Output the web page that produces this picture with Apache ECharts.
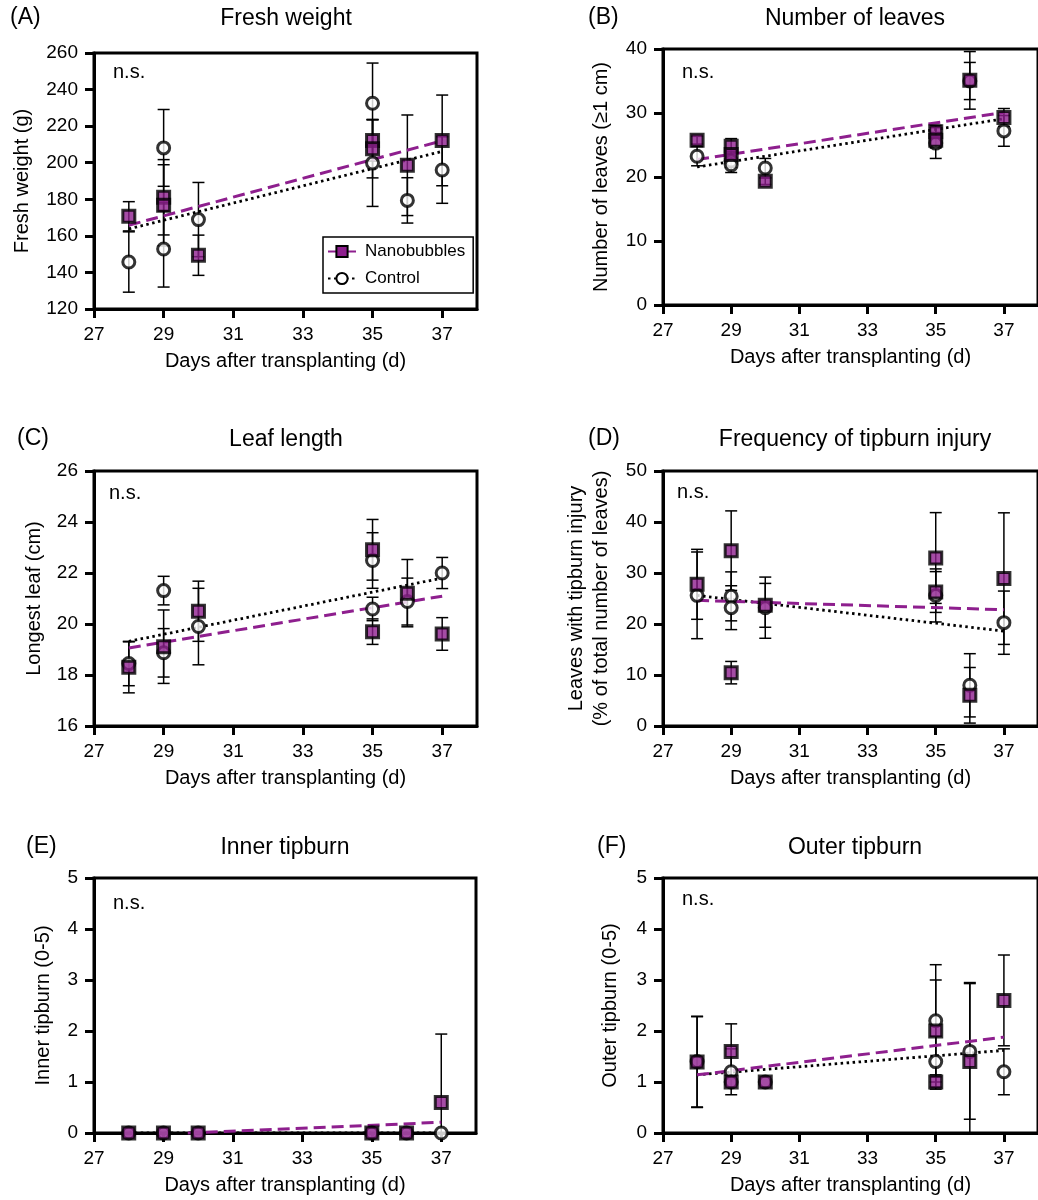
<!DOCTYPE html>
<html lang="en">
<head>
<meta charset="UTF-8">
<title>Nanobubbles vs control</title>
<script src="https://cdn.jsdelivr.net/npm/echarts@6/dist/echarts.min.js"></script>
<style>
    html, body { margin: 0; padding: 0; background: #fff; }
    #chart { width: 1038px; height: 1200px; }
</style>
</head>
<body>
<div id="chart"></div>
<script>
    // x ticks shown on every panel
    var dayTicks = [27, 29, 31, 33, 35, 37];

    // [day, mean, sd]  -- (A) fresh weight
    var fwNano = [[28, 170.7, 8], [29, 181.1, 20.6], [29, 176.7, 22.2], [30, 149.4, 11], [35, 212.2, 11.3], [35, 207.7, 16], [36, 198.6, 27.5], [37, 212.2, 24.8]];
    var fwCtrl = [[28, 145.7, 16.5], [29, 208.1, 21], [29, 152.8, 20.8], [30, 168.9, 20.3], [35, 232.5, 22], [35, 199.8, 23.7], [36, 179.4, 12.4], [37, 196, 18.2]];
    var fwFitNano = [[28, 165.8], [37, 212.0]];
    var fwFitCtrl = [[28, 163.8], [37, 206.2]];

    // (B) number of leaves
    var lnNano = [[28, 25.75, 0.6], [29, 24.8, 1.2], [29, 23.5, 0.8], [30, 19.33, 0.5], [35, 27.06, 1.0], [35, 25.75, 1.2], [36, 35.1, 4.5], [37, 29.3, 1.4]];
    var lnCtrl = [[28, 23.25, 1.5], [29, 22.5, 1.0], [29, 21.9, 1.2], [30, 21.4, 1.5], [35, 25.3, 2.4], [36, 35.0, 2.9], [37, 27.2, 2.4]];
    var lnFitNano = [[28, 22.73], [37, 30.1]];
    var lnFitCtrl = [[28, 21.57], [37, 29.1]];

    // (C) leaf length
    var llNano = [[28, 18.3, 1.0], [29, 19.11, 1.44], [30, 20.5, 1.18], [35, 22.91, 1.19], [35, 19.7, 0.5], [36, 21.21, 1.32], [37, 19.61, 0.64]];
    var llCtrl = [[28, 18.45, 0.87], [29, 21.31, 0.56], [29, 18.87, 0.95], [30, 19.9, 1.5], [35, 22.49, 1.09], [35, 20.59, 0.46], [36, 20.88, 0.92], [37, 22.0, 0.61]];
    var llFitNano = [[28, 19.06], [37, 21.09]];
    var llFitCtrl = [[28, 19.32], [37, 21.8]];

    // (D) frequency of tipburn injury
    var tbNano = [[28, 27.78, 6.86], [29, 34.38, 7.8], [29, 10.46, 2.2], [30, 23.66, 4.3], [35, 32.94, 8.9], [35, 26.27, 4.0], [36, 6.02, 5.45], [37, 28.9, 12.9]];
    var tbCtrl = [[28, 25.62, 8.5], [29, 25.42, 4.8], [29, 23.2, 4.3], [30, 23.2, 6.0], [35, 25.6, 5.2], [36, 7.98, 6.2], [37, 20.26, 6.2]];
    var tbFitNano = [[28, 24.64], [37, 22.8]];
    var tbFitCtrl = [[28, 25.6], [37, 18.6]];

    // (E) inner tipburn
    var itNano = [[28, 0, 0], [29, 0, 0], [30, 0, 0], [35, 0, 0], [36, 0, 0], [37, 0.6, 1.34]];
    var itCtrl = [[28, 0, 0], [29, 0, 0], [30, 0, 0], [35, 0, 0], [36, 0, 0], [37, 0, 0]];
    var itFitNano = [[29.7, 0], [37, 0.21]];
    var itFitCtrl = [[28, 0], [37, 0]];

    // (F) outer tipburn
    var otNano = [[28, 1.39, 0.89], [29, 1.6, 0.54], [29, 1.0, 0], [30, 1.0, 0], [35, 2.0, 1.0], [35, 1.0, 0.14], [36, 1.4, 1.55], [37, 2.6, 0.89]];
    var otCtrl = [[28, 1.4, 0.89], [29, 1.2, 0.45], [29, 1.0, 0], [30, 1.0, 0], [35, 2.2, 1.1], [35, 1.4, 0.5], [36, 1.6, 1.33], [37, 1.2, 0.45]];
    var otFitNano = [[28, 1.14], [37, 1.88]];
    var otFitCtrl = [[28, 1.14], [37, 1.62]];

    var purple = '#8e1f8e';
    var font = 'Liberation Sans, Arial, sans-serif';

    var panels = [
        {tag: '(A)', title: 'Fresh weight', yName: 'Fresh weight (g)', ymin: 120, ymax: 260, step: 20,
            grid: {left: 94, top: 53, width: 383, height: 256}, nameGap: 59,
            tagX: 10, titleX: 286, titleY: 19, nsX: 113, nsY: 72,
            nano: fwNano, ctrl: fwCtrl, fitNano: fwFitNano, fitCtrl: fwFitCtrl},
        {tag: '(B)', title: 'Number of leaves', yName: 'Number of leaves (\u22651 cm)', ymin: 0, ymax: 40, step: 10,
            grid: {left: 663, top: 49, width: 383, height: 256}, nameGap: 49,
            tagX: 588, titleX: 855, titleY: 19, nsX: 682, nsY: 72,
            nano: lnNano, ctrl: lnCtrl, fitNano: lnFitNano, fitCtrl: lnFitCtrl},
        {tag: '(C)', title: 'Leaf length', yName: 'Longest leaf (cm)', ymin: 16, ymax: 26, step: 2,
            grid: {left: 94, top: 471, width: 383, height: 255}, nameGap: 47,
            tagX: 17, titleX: 286, titleY: 440, nsX: 109, nsY: 493,
            nano: llNano, ctrl: llCtrl, fitNano: llFitNano, fitCtrl: llFitCtrl},
        {tag: '(D)', title: 'Frequency of tipburn injury', yName: 'Leaves with tipburn injury\n(% of total number of leaves)', ymin: 0, ymax: 50, step: 10,
            grid: {left: 663, top: 471, width: 383, height: 255}, nameGap: 49,
            tagX: 588, titleX: 855, titleY: 440, nsX: 677, nsY: 492,
            nano: tbNano, ctrl: tbCtrl, fitNano: tbFitNano, fitCtrl: tbFitCtrl},
        {tag: '(E)', title: 'Inner tipburn', yName: 'Inner tipburn (0-5)', ymin: 0, ymax: 5, step: 1,
            grid: {left: 94, top: 878, width: 382, height: 255}, nameGap: 38,
            tagX: 26, titleX: 285, titleY: 848, nsX: 113, nsY: 903,
            nano: itNano, ctrl: itCtrl, fitNano: itFitNano, fitCtrl: itFitCtrl},
        {tag: '(F)', title: 'Outer tipburn', yName: 'Outer tipburn (0-5)', ymin: 0, ymax: 5, step: 1,
            grid: {left: 663, top: 878, width: 383, height: 255}, nameGap: 40,
            tagX: 597, titleX: 855, titleY: 848, nsX: 682, nsY: 899,
            nano: otNano, ctrl: otCtrl, fitNano: otFitNano, fitCtrl: otFitCtrl}
    ];

    function errorBars(gi, data, ymin) {
        return {
            type: 'custom',
            xAxisIndex: gi, yAxisIndex: gi,
            z: 1, silent: true,
            encode: {x: 0, y: 1},
            data: data,
            renderItem: function (params, api) {
                var x = api.value(0), m = api.value(1), sd = api.value(2);
                if (!sd) return null;
                var lo = Math.max(m - sd, ymin);
                var top = api.coord([x, m + sd]);
                var bot = api.coord([x, lo]);
                var w = 6;
                var st = {stroke: '#000', lineWidth: 1.5};
                var kids = [
                    {type: 'line', shape: {x1: top[0], y1: top[1], x2: bot[0], y2: bot[1]}, style: st},
                    {type: 'line', shape: {x1: top[0] - w, y1: top[1], x2: top[0] + w, y2: top[1]}, style: st}
                ];
                if (m - sd > ymin) {
                    kids.push({type: 'line', shape: {x1: bot[0] - w, y1: bot[1], x2: bot[0] + w, y2: bot[1]}, style: st});
                }
                return {type: 'group', children: kids};
            }
        };
    }

    var grids = [], xAxes = [], yAxes = [], series = [], graphics = [];

    panels.forEach(function (p, i) {
        grids.push({left: p.grid.left, top: p.grid.top, width: p.grid.width, height: p.grid.height,
            show: true, borderColor: '#000', borderWidth: 3, backgroundColor: 'transparent'});
        xAxes.push({
            type: 'value', gridIndex: i, min: 27, max: 38,
            name: 'Days after transplanting (d)', nameLocation: 'middle', nameGap: 42,
            nameTextStyle: {fontSize: 20, color: '#000', fontFamily: font},
            axisLine: {lineStyle: {color: '#000', width: 3}},
            axisTick: {show: true, length: 9, lineStyle: {width: 3, color: '#000'}, customValues: dayTicks},
            axisLabel: {fontSize: 19, color: '#000', margin: 16, fontFamily: font, customValues: dayTicks},
            splitLine: {show: false}
        });
        yAxes.push({
            type: 'value', gridIndex: i, min: p.ymin, max: p.ymax, interval: p.step,
            name: p.yName, nameLocation: 'middle', nameGap: p.nameGap,
            nameTextStyle: {fontSize: 20, color: '#000', fontFamily: font, lineHeight: 25},
            axisLine: {lineStyle: {color: '#000', width: 3}},
            axisTick: {show: true, length: 9, lineStyle: {width: 3, color: '#000'}},
            axisLabel: {fontSize: 19, color: '#000', margin: 16, fontFamily: font},
            splitLine: {show: false}
        });

        series.push(errorBars(i, p.ctrl, p.ymin));
        series.push(errorBars(i, p.nano, p.ymin));
        series.push({
            name: 'Control', type: 'line', xAxisIndex: i, yAxisIndex: i, z: 2,
            data: p.fitCtrl, showSymbol: false, symbol: 'circle', clip: false, silent: true,
            lineStyle: {color: '#000', width: 2.8, type: [2.5, 3.5]},
            itemStyle: {color: '#fff', borderColor: '#000', borderWidth: 3}
        });
        series.push({
            name: 'Nanobubbles', type: 'line', xAxisIndex: i, yAxisIndex: i, z: 2,
            data: p.fitNano, showSymbol: false, symbol: 'rect', clip: false, silent: true,
            lineStyle: {color: purple, width: 3, type: [12, 6]},
            itemStyle: {color: purple, borderColor: '#000', borderWidth: 3}
        });
        series.push({
            name: 'Control points', type: 'scatter', xAxisIndex: i, yAxisIndex: i, z: 3,
            data: p.ctrl.map(function (d) { return [d[0], d[1]]; }),
            symbol: 'circle', symbolSize: 12, clip: false, silent: true,
            itemStyle: {color: '#fff', borderColor: '#000', borderWidth: 3}
        });
        series.push({
            name: 'Nanobubbles points', type: 'scatter', xAxisIndex: i, yAxisIndex: i, z: 4,
            data: p.nano.map(function (d) { return [d[0], d[1]]; }),
            symbol: 'rect', symbolSize: 12, clip: false, silent: true,
            itemStyle: {color: purple, borderColor: '#000', borderWidth: 3}
        });

        graphics.push({type: 'text', left: p.tagX, top: p.titleY - 13,
            style: {text: p.tag, fontSize: 23, fontFamily: font, fill: '#000'}});
        graphics.push({type: 'text', x: p.titleX, y: p.titleY,
            style: {text: p.title, fontSize: 23, fontFamily: font, fill: '#000', textAlign: 'center', textVerticalAlign: 'middle'}});
        graphics.push({type: 'text', x: p.nsX, y: p.nsY,
            style: {text: 'n.s.', fontSize: 20, fontFamily: font, fill: '#000', textVerticalAlign: 'middle'}});
    });

    var chart = echarts.init(document.getElementById('chart'), null, {renderer: 'canvas'});
    chart.setOption({
        animation: false,
        backgroundColor: '#fff',
        textStyle: {fontFamily: font},
        grid: grids,
        xAxis: xAxes,
        yAxis: yAxes,
        legend: {
            data: ['Nanobubbles', 'Control'],
            orient: 'vertical', left: 323, top: 237,
            padding: [6, 8, 6, 4], itemGap: 10,
            itemWidth: 28, itemHeight: 14,
            borderColor: '#000', borderWidth: 1.5,
            selectedMode: false,
            textStyle: {fontSize: 17, color: '#000', fontFamily: font, padding: [0, 0, 0, 4]}
        },
        graphic: graphics,
        series: series
    });
</script>
</body>
</html>
